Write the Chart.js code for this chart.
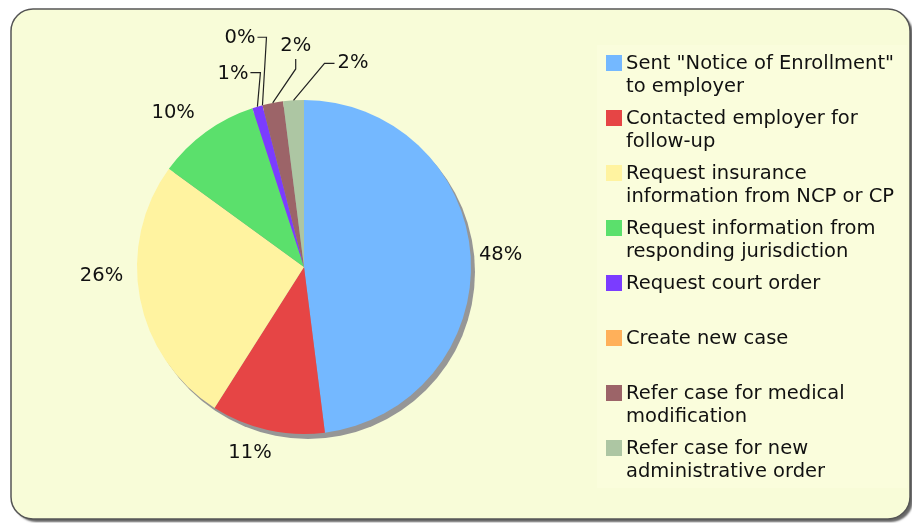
<!DOCTYPE html>
<html>
<head>
<meta charset="utf-8">
<script src="https://cdn.jsdelivr.net/npm/chart.js@4"></script>
<style>
  body { margin: 0; background: #fff; }
  #wrap { width: 912px; height: 523px; }
</style>
</head>
<body>
<div id="wrap"><canvas id="grafico" width="912" height="523"></canvas></div>
<script>
const categorias = [
  ['Sent "Notice of Enrollment"', 'to employer'],
  ['Contacted employer for', 'follow-up'],
  ['Request insurance', 'information from NCP or CP'],
  ['Request information from', 'responding jurisdiction'],
  ['Request court order'],
  ['Create new case'],
  ['Refer case for medical', 'modification'],
  ['Refer case for new', 'administrative order']
];
const porcentajes = [48, 11, 26, 10, 1, 0, 2, 2];
const colores = ['#74b8ff', '#e64545', '#fff3a0', '#5be06c', '#7b3cff', '#ffb05a', '#9c6468', '#adc6a3'];

const fuente = '19.5px "DejaVu Sans", Verdana, sans-serif';

// panel de fondo con borde redondeado
const fondoPlugin = {
  id: 'fondo',
  beforeDraw(chart) {
    const ctx = chart.ctx;
    ctx.save();
    ctx.beginPath();
    ctx.roundRect(11, 9, 899, 510, 22);
    ctx.shadowColor = 'rgba(0,0,0,0.6)';
    ctx.shadowOffsetX = 3;
    ctx.shadowOffsetY = 3;
    ctx.shadowBlur = 2;
    ctx.fillStyle = '#f8fcd8';
    ctx.fill();
    ctx.shadowColor = 'transparent';
    ctx.lineWidth = 1.5;
    ctx.strokeStyle = '#555';
    ctx.stroke();
    // caja de la leyenda
    ctx.fillStyle = '#fafddc';
    ctx.fillRect(597, 45, 310, 443);
    ctx.restore();
  },
  beforeDatasetsDraw(chart) {
    // sombra del pastel
    const arc = chart.getDatasetMeta(0).data[0];
    const ctx = chart.ctx;
    ctx.save();
    ctx.beginPath();
    ctx.arc(arc.x + 4, arc.y + 5, arc.outerRadius, 0, Math.PI * 2);
    ctx.fillStyle = '#969696';
    ctx.fill();
    ctx.restore();
  }
};

// etiquetas de porcentaje y guias para las porciones chicas
const etiquetasPlugin = {
  id: 'etiquetas',
  afterDatasetsDraw(chart, args, opts) {
    const ctx = chart.ctx;
    const meta = chart.getDatasetMeta(0);
    ctx.save();
    ctx.font = fuente;
    ctx.fillStyle = '#111';
    ctx.strokeStyle = '#222';
    ctx.lineWidth = 1.2;
    meta.data.forEach((arc, i) => {
      const texto = porcentajes[i] + '%';
      const mid = (arc.startAngle + arc.endAngle) / 2;
      const r = arc.outerRadius;
      const guia = opts.guias[i];
      if (!guia) {
        const off = opts.desplazamientos[i] || [0, 0];
        const x = arc.x + Math.cos(mid) * (r + 30) + off[0];
        const y = arc.y + Math.sin(mid) * (r + 30) + off[1];
        ctx.textAlign = 'center';
        ctx.textBaseline = 'middle';
        ctx.fillText(texto, x, y);
        return;
      }
      const ex = arc.x + Math.cos(mid) * r;
      const ey = arc.y + Math.sin(mid) * r;
      const cx = ex + guia.codo[0];
      const cy = ey + guia.codo[1];
      const tx = cx + guia.cola[0];
      const ty = cy + guia.cola[1];
      ctx.beginPath();
      ctx.moveTo(ex, ey);
      ctx.lineTo(cx, cy);
      ctx.lineTo(tx, ty);
      ctx.stroke();
      if (guia.cola[1] !== 0) {
        ctx.textAlign = 'center';
        ctx.textBaseline = 'bottom';
        ctx.fillText(texto, tx, ty - 3);
      } else if (guia.cola[0] < 0) {
        ctx.textAlign = 'right';
        ctx.textBaseline = 'middle';
        ctx.fillText(texto, tx - 2, ty + 1);
      } else {
        ctx.textAlign = 'left';
        ctx.textBaseline = 'middle';
        ctx.fillText(texto, tx + 3, ty);
      }
    });
    ctx.restore();
  }
};

// leyenda con textos en dos renglones
const leyendaPlugin = {
  id: 'leyenda',
  afterDraw(chart) {
    const ctx = chart.ctx;
    ctx.save();
    ctx.font = fuente;
    ctx.textAlign = 'left';
    ctx.textBaseline = 'middle';
    categorias.forEach((lineas, i) => {
      const top = 55 + i * 55;
      ctx.fillStyle = colores[i];
      ctx.fillRect(606, top, 16, 16);
      ctx.fillStyle = '#111';
      lineas.forEach((linea, j) => {
        ctx.fillText(linea, 626, top + 9 + j * 23);
      });
    });
    ctx.restore();
  }
};

const ctx = document.getElementById('grafico').getContext('2d');
const myChart = new Chart(ctx, {
  type: 'pie',
  data: {
    labels: categorias.map(c => c.join(' ')),
    datasets: [{
      data: porcentajes,
      backgroundColor: colores,
      borderWidth: 0,
    }],
  },
  options: {
    responsive: false,
    animation: false,
    layout: {
      padding: { left: 137, right: 441, top: 100, bottom: 89 },
    },
    plugins: {
      legend: { display: false },
      tooltip: { enabled: false },
      etiquetas: {
        desplazamientos: [[0, 0], [-11, -6], [-9, -28], [-15, 5]],
        guias: [null, null, null, null,
          { codo: [3, -34], cola: [-10, 0] },
          { codo: [4, -68], cola: [-9, 0] },
          { codo: [23, -34], cola: [0, -10] },
          { codo: [31, -37], cola: [10, 0] }],
      },
    },
  },
  plugins: [fondoPlugin, etiquetasPlugin, leyendaPlugin],
});
</script>
</body>
</html>
